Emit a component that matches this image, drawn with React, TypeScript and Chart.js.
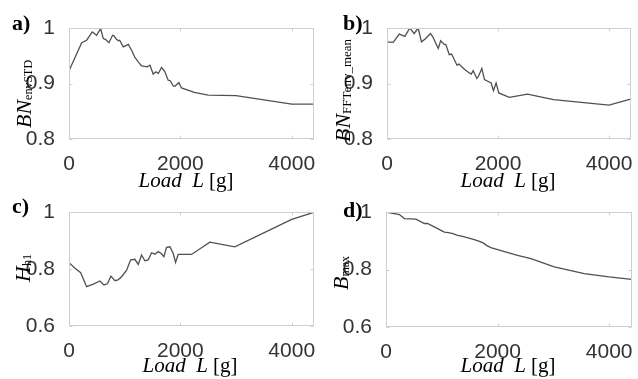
import React, { useEffect, useRef } from "react";
import { Chart, registerables } from "chart.js";

Chart.register(...registerables);

// ---------- data ----------
const xTicks = [0, 2000, 4000];
const yTicksAB = [0.8, 0.9, 1];
const yTicksCD = [0.6, 0.8, 1];

const aLoad = [0, 100, 228, 317, 419, 495, 568, 616, 660, 717, 783, 808, 850, 885, 910, 975, 1065, 1124, 1184, 1243, 1303, 1405, 1453, 1513, 1561, 1602, 1663, 1722, 1781, 1820, 1871, 1900, 1973, 2021, 2250, 2500, 3000, 4000, 4400];
const aVal = [0.923, 0.945, 0.9735, 0.978, 0.993, 0.987, 0.999, 0.981, 0.979, 0.9735, 0.987, 0.986, 0.98, 0.977, 0.978, 0.966, 0.9705, 0.96, 0.947, 0.939, 0.9315, 0.93, 0.933, 0.917, 0.921, 0.918, 0.929, 0.921, 0.906, 0.905, 0.8955, 0.895, 0.9015, 0.892, 0.884, 0.879, 0.878, 0.863, 0.863];

const bLoad = [0, 113, 220, 322, 412, 489, 561, 621, 698, 782, 820, 923, 966, 1026, 1060, 1121, 1163, 1260, 1296, 1379, 1439, 1517, 1553, 1618, 1648, 1708, 1756, 1815, 1875, 1917, 1965, 2013, 2203, 2531, 3000, 4000, 4400];
const bVal = [0.975, 0.974, 0.989, 0.985, 1.0, 0.99, 1.0, 0.975, 0.981, 0.99, 0.985, 0.963, 0.977, 0.971, 0.97, 0.952, 0.953, 0.933, 0.935, 0.927, 0.922, 0.917, 0.923, 0.909, 0.913, 0.927, 0.907, 0.904, 0.901, 0.887, 0.901, 0.883, 0.875, 0.881, 0.871, 0.861, 0.8725];

const cLoad = [0, 108, 210, 317, 437, 556, 628, 690, 753, 825, 880, 945, 1035, 1107, 1184, 1243, 1303, 1363, 1423, 1483, 1543, 1602, 1650, 1704, 1752, 1812, 1871, 1914, 1961, 2200, 2529, 2978, 4000, 4400];
const cVal = [0.822, 0.8025, 0.787, 0.738, 0.747, 0.758, 0.744, 0.748, 0.775, 0.759, 0.762, 0.773, 0.796, 0.832, 0.834, 0.816, 0.849, 0.829, 0.832, 0.857, 0.852, 0.861, 0.855, 0.843, 0.876, 0.878, 0.855, 0.823, 0.851, 0.851, 0.894, 0.878, 0.974, 0.999];

const dLoad = [0, 240, 330, 538, 688, 742, 900, 1045, 1117, 1200, 1283, 1373, 1582, 1700, 1761, 1800, 1880, 2000, 2358, 2597, 3015, 3552, 4000, 4400];
const dVal = [1.0, 0.991, 0.977, 0.975, 0.96, 0.96, 0.945, 0.93, 0.928, 0.925, 0.919, 0.915, 0.904, 0.896, 0.89, 0.884, 0.876, 0.869, 0.849, 0.838, 0.809, 0.786, 0.774, 0.766];

// ---------- styling ----------
const W = 638;
const H = 379;
const YW = 50;
const XH = 40;
const LINE = "#505050";
const BOX = "#cfcfcf";
const TICK_COLOR = "#333333";
const SANS = "'Liberation Sans', Arial, sans-serif";
const SERIF = "'Liberation Serif', 'Times New Roman', serif";

type Part = { text: string; font: string; dy: number };

function drawParts(ctx: CanvasRenderingContext2D, parts: Part[], x: number, y: number, rotate: boolean, center: boolean) {
  ctx.save();
  ctx.fillStyle = "#000";
  ctx.textBaseline = "alphabetic";
  ctx.textAlign = "left";
  let total = 0;
  for (const p of parts) {
    ctx.font = p.font;
    total += ctx.measureText(p.text).width;
  }
  ctx.translate(x, y);
  if (rotate) ctx.rotate(-Math.PI / 2);
  let cx = center ? -total / 2 : 0;
  for (const p of parts) {
    ctx.font = p.font;
    ctx.fillText(p.text, cx, p.dy);
    cx += ctx.measureText(p.text).width;
  }
  ctx.restore();
}

const xTitle = (): Part[] => [
  { text: "Load", font: `italic 21px ${SERIF}`, dy: 0 },
  { text: "  ", font: `italic 21px ${SERIF}`, dy: 0 },
  { text: "L", font: `italic 21px ${SERIF}`, dy: 0 },
  { text: " [g]", font: `21px ${SERIF}`, dy: 0 },
];

type PanelDef = {
  load: number[];
  val: number[];
  yMin: number;
  yMax: number;
  yTicks: number[];
  area: { l: number; t: number; r: number; b: number };
  letter: string;
  letterPos: [number, number];
  yTitle: Part[];
  yTitlePos: [number, number];
  xTitlePos: [number, number];
};

const panels: PanelDef[] = [
  {
    load: aLoad, val: aVal, yMin: 0.8, yMax: 1, yTicks: yTicksAB,
    area: { l: 69, t: 28, r: 314, b: 139 },
    letter: "a)", letterPos: [12, 30],
    yTitle: [
      { text: "BN", font: `italic 22px ${SERIF}`, dy: 0 },
      { text: "envSTD", font: `12px ${SERIF}`, dy: 1 },
    ],
    yTitlePos: [31, 128],
    xTitlePos: [186, 187],
  },
  {
    load: bLoad, val: bVal, yMin: 0.8, yMax: 1, yTicks: yTicksAB,
    area: { l: 387, t: 28, r: 632, b: 139 },
    letter: "b)", letterPos: [343, 30],
    yTitle: [
      { text: "BN", font: `italic 22px ${SERIF}`, dy: 0 },
      { text: "FFTenv_mean", font: `13px ${SERIF}`, dy: 1 },
    ],
    yTitlePos: [350, 142],
    xTitlePos: [508, 187],
  },
  {
    load: cLoad, val: cVal, yMin: 0.6, yMax: 1, yTicks: yTicksCD,
    area: { l: 69, t: 212, r: 314, b: 326 },
    letter: "c)", letterPos: [12, 213],
    yTitle: [
      { text: "H", font: `italic 22px ${SERIF}`, dy: 0 },
      { text: "h1", font: `12px ${SERIF}`, dy: 1 },
    ],
    yTitlePos: [30, 282],
    xTitlePos: [190, 372],
  },
  {
    load: dLoad, val: dVal, yMin: 0.6, yMax: 1, yTicks: yTicksCD,
    area: { l: 386, t: 212, r: 633, b: 327 },
    letter: "d)", letterPos: [343, 217],
    yTitle: [
      { text: "B", font: `italic 22px ${SERIF}`, dy: 0 },
      { text: "max", font: `12px ${SERIF}`, dy: 1 },
    ],
    yTitlePos: [348, 290],
    xTitlePos: [508, 372],
  },
];

const boxPlugin = {
  id: "matlabBox",
  afterDatasetsDraw(chart: any) {
    const { ctx, chartArea: a, scales } = chart;
    ctx.save();
    ctx.strokeStyle = BOX;
    ctx.lineWidth = 1;
    const l = Math.round(a.left) + 0.5;
    const r = Math.round(a.right) - 0.5;
    const t = Math.round(a.top) + 0.5;
    const b = Math.round(a.bottom) - 0.5;
    ctx.strokeRect(l, t, r - l, b - t);
    ctx.beginPath();
    for (const tk of scales.x.ticks) {
      const px = Math.round(scales.x.getPixelForValue(tk.value)) + 0.5;
      ctx.moveTo(px, b); ctx.lineTo(px, b - 3);
      ctx.moveTo(px, t); ctx.lineTo(px, t + 3);
    }
    for (const tk of scales.y.ticks) {
      const py = Math.round(scales.y.getPixelForValue(tk.value)) + 0.5;
      ctx.moveTo(l, py); ctx.lineTo(l + 3, py);
      ctx.moveTo(r, py); ctx.lineTo(r - 3, py);
    }
    ctx.stroke();
    ctx.restore();
  },
};

function makeTextPlugin(p: PanelDef) {
  return {
    id: "panelText",
    afterDraw(chart: any) {
      const ctx: CanvasRenderingContext2D = chart.ctx;
      drawParts(ctx, [{ text: p.letter, font: `bold 22px ${SERIF}`, dy: 0 }], p.letterPos[0], p.letterPos[1], false, false);
      drawParts(ctx, p.yTitle, p.yTitlePos[0], p.yTitlePos[1], true, false);
      drawParts(ctx, xTitle(), p.xTitlePos[0], p.xTitlePos[1], false, true);
    },
  };
}

function Panel({ p }: { p: PanelDef }) {
  const ref = useRef<HTMLCanvasElement | null>(null);
  useEffect(() => {
    if (!ref.current) return;
    const chart = new Chart(ref.current, {
      type: "line",
      data: {
        datasets: [
          {
            data: p.load.map((x, i) => ({ x, y: p.val[i] })),
            borderColor: LINE,
            borderWidth: 1.3,
            pointRadius: 0,
            tension: 0,
            fill: false,
          },
        ],
      },
      options: {
        responsive: false,
        animation: false,
        devicePixelRatio: 1,
        events: [],
        layout: {
          padding: {
            left: p.area.l - YW,
            top: p.area.t,
            right: W - p.area.r,
            bottom: H - p.area.b - XH,
          },
        },
        plugins: { legend: { display: false }, tooltip: { enabled: false } },
        scales: {
          x: {
            type: "linear",
            min: 0,
            max: 4400,
            afterBuildTicks: (s: any) => { s.ticks = xTicks.map((v) => ({ value: v })); },
            afterFit: (s: any) => { s.height = XH; },
            grid: { display: false },
            border: { display: false },
            ticks: {
              font: { family: SANS, size: 21 },
              color: TICK_COLOR,
              padding: 5,
              maxRotation: 0,
              autoSkip: false,
              callback: (v: any) => String(v),
            },
          },
          y: {
            type: "linear",
            min: p.yMin,
            max: p.yMax,
            afterBuildTicks: (s: any) => { s.ticks = p.yTicks.map((v) => ({ value: v })); },
            afterFit: (s: any) => { s.width = YW; },
            grid: { display: false },
            border: { display: false },
            ticks: {
              font: { family: SANS, size: 21 },
              color: TICK_COLOR,
              padding: 6,
              autoSkip: false,
              callback: (v: any) => String(Number(Number(v).toFixed(2))),
            },
          },
        },
      } as any,
      plugins: [boxPlugin, makeTextPlugin(p)],
    });
    return () => chart.destroy();
  }, [p]);
  return (
    <canvas
      ref={ref}
      width={W}
      height={H}
      style={{ position: "absolute", left: 0, top: 0, width: W, height: H }}
    />
  );
}

export default function App() {
  return (
    <div style={{ position: "absolute", left: 0, top: 0, width: W, height: H, background: "#fff", overflow: "hidden" }}>
      {panels.map((p, i) => (
        <Panel key={i} p={p} />
      ))}
    </div>
  );
}
